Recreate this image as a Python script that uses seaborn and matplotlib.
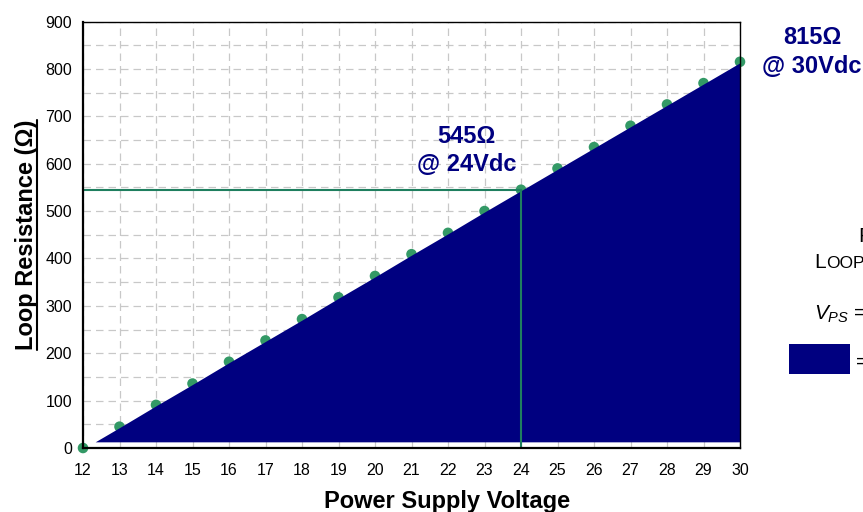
import numpy as np
import seaborn as sns
import matplotlib.pyplot as plt
from matplotlib.lines import Line2D
from matplotlib.patches import Rectangle

# Data
voltage = [12, 13, 14, 15, 16, 17, 18, 19, 20, 21, 22, 23, 24, 25, 26, 27, 28, 29, 30]
resistance = [0, 45, 91, 136, 182, 227, 272, 318, 363, 409, 454, 500, 545, 590, 635, 680, 725, 770, 815]
x_ticks = list(range(12, 31))
y_ticks = list(range(0, 901, 100))
y_minor = list(range(50, 900, 100))
mark_v = 24
mark_r = 545

W, H = 863, 512
navy = "#000080"
dot_green = "#339966"
line_green = "#1f7f5f"

sns.set_style("white")
plt.rcParams["font.family"] = ["Liberation Sans", "DejaVu Sans"]
plt.rcParams["mathtext.fontset"] = "custom"
plt.rcParams["mathtext.it"] = "Liberation Sans:italic"
plt.rcParams["mathtext.rm"] = "Liberation Sans"
for key in ["text.color", "axes.labelcolor", "xtick.color", "ytick.color"]:
    plt.rcParams[key] = "black"

fig, ax = plt.subplots(figsize=(W / 100, H / 100), dpi=100)
fig.subplots_adjust(left=83 / W, right=740 / W, bottom=1 - 448 / H, top=1 - 21.5 / H)

# dots sit under the filled area, so only their upper halves show
sns.scatterplot(x=voltage, y=resistance, color=dot_green, s=58, edgecolor="none",
                ax=ax, zorder=1.5, clip_on=False)

# filled area under the line (floor just above zero)
v = np.array(voltage, dtype=float)
top = np.array(resistance, dtype=float) - 2
ax.fill_between(v, 13, top, where=top >= 13, interpolate=True, color=navy, lw=0, zorder=2)

# reference lines at 24 Vdc
ax.plot([voltage[0], mark_v], [mark_r, mark_r], color=line_green, lw=1.5, zorder=3)
ax.plot([mark_v, mark_v], [0, mark_r], color=line_green, lw=1.5, zorder=3)

ax.set_xlim(12, 30)
ax.set_ylim(0, 900)
ax.set_xticks(x_ticks)
ax.set_yticks(y_ticks)
ax.set_yticks(y_minor, minor=True)
ax.tick_params(axis="both", which="major", labelsize=11.5, length=4, width=1,
               direction="out", pad=4)
ax.tick_params(axis="y", which="minor", length=0)
ax.tick_params(axis="x", which="major", pad=7)
ax.grid(True, which="both", color="#c8c8c8", linestyle=(0, (6, 4)), lw=0.9, zorder=0)
ax.set_axisbelow(True)

for side in ["left", "bottom"]:
    ax.spines[side].set_linewidth(1.6)
for side in ["top", "right"]:
    ax.spines[side].set_linewidth(1.0)
for s in ax.spines.values():
    s.set_color("black")
    s.set_zorder(5)

ax.set_xlabel("Power Supply Voltage", fontsize=17, fontweight="bold")
ax.xaxis.set_label_coords((447 - 83) / 657, (448 - 490) / 426.5)
ax.set_ylabel("Loop Resistance (Ω)", fontsize=17, fontweight="bold")
ax.yaxis.set_label_coords((38 - 83) / 657, 0.5)

# annotations
ax.text(22.5, 628, "545Ω\n@ 24Vdc", color=navy, fontsize=17, fontweight="bold",
        ha="center", va="center", linespacing=1.3, zorder=6)
fig.text(812 / W, 1 - 52 / H, "815Ω\n@ 30Vdc", color=navy, fontsize=17, fontweight="bold",
         ha="center", va="center", linespacing=1.3)

# formula panel, cut off at the right edge as in the original
fig.text(858 / W, 1 - 242 / H, "R", fontsize=15, va="baseline")
fig.text(814 / W, 1 - 268 / H, "L", fontsize=15, va="baseline")
fig.text(826 / W, 1 - 268 / H, "OOP", fontsize=12.5, va="baseline")
fig.text(814 / W, 1 - 320 / H, r"$V_{PS}$ =", fontsize=15, va="baseline")
fig.add_artist(Rectangle((789 / W, 1 - 374 / H), 61 / W, 30 / H, transform=fig.transFigure,
                         facecolor=navy, edgecolor="none"))
fig.text(856 / W, 1 - 362 / H, "=", fontsize=15, va="center")

# underline the y label
fig.canvas.draw()
bb = ax.yaxis.label.get_window_extent()
fig.add_artist(Line2D([(bb.x1 - 1.5) / W] * 2, [bb.y0 / H, bb.y1 / H],
                      transform=fig.transFigure, color="black", lw=1.5))

fig.savefig("out.png", dpi=100)
